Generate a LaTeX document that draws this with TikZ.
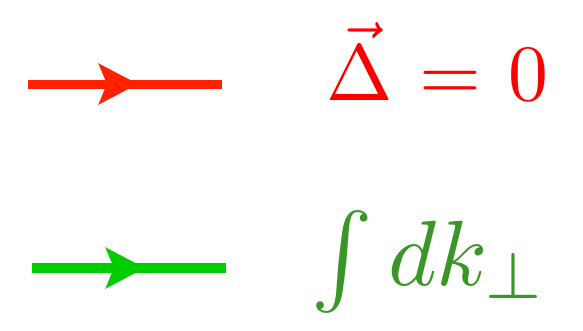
\documentclass[tikz,border=0pt]{standalone}
\usetikzlibrary{arrows.meta}
\definecolor{lred}{RGB}{255,34,0}
\definecolor{tred}{RGB}{255,0,0}
\definecolor{lgreen}{RGB}{0,204,0}
\definecolor{tgreen}{RGB}{58,150,40}
\tikzset{
  prop/.style={line width=9bp},
  tip/.style={-{Stealth[length=39bp,width=40bp,inset=8bp]}},
  lab/.style={inner sep=0pt,anchor=base west}
}
\begin{document}
\begin{tikzpicture}[x=1bp,y=-1bp]
\useasboundingbox (0,0) rectangle (583,330);
% red propagator
\coordinate (ra) at (28,84);
\coordinate (rm) at (138,84);
\coordinate (rb) at (222,84);
\draw[prop,lred] (ra) -- (rb);
\draw[prop,lred,tip] (ra) -- (rm);
\node[lab,text=tred] (rt) at (326,100) {\scalebox{8}{$\vec\Delta\mkern1mu=\mkern1.3mu0$}};
% green propagator
\coordinate (ga) at (32,268);
\coordinate (gm) at (145,268);
\coordinate (gb) at (226,268);
\draw[prop,lgreen,line width=10bp] (ga) -- (gb);
\draw[prop,lgreen,tip,line width=10bp] (ga) -- (gm);
\node[lab,text=tgreen] (gt) at (311,285) {\scalebox{9.3}{$\int dk_\perp$}};
\end{tikzpicture}
\end{document}
